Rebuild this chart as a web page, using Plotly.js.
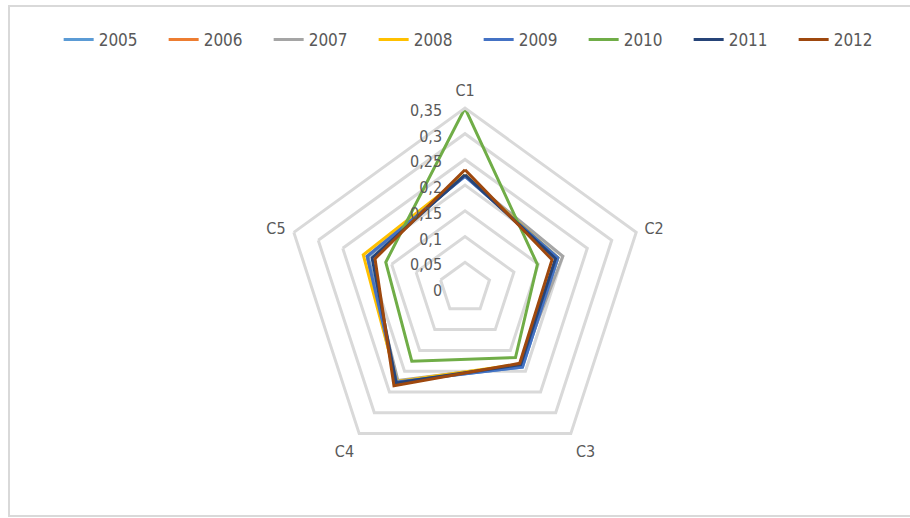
<!DOCTYPE html>
<html>
<head>
<meta charset="utf-8">
<script src="https://cdn.plot.ly/plotly-3.0.1.min.js"></script>
<style>
html,body{margin:0;padding:0;background:#fff;}
#chart{width:910px;height:518px;}
</style>
</head>
<body>
<div id="chart"></div>
<script>
const categories = ["C1", "C2", "C3", "C4", "C5"];
const years = ["2005", "2006", "2007", "2008", "2009", "2010", "2011", "2012"];
const v2005 = [0.218, 0.190, 0.190, 0.225, 0.198];
const v2006 = [0.219, 0.188, 0.186, 0.228, 0.200];
const v2007 = [0.218, 0.200, 0.185, 0.222, 0.200];
const v2008 = [0.220, 0.190, 0.183, 0.225, 0.208];
const v2009 = [0.217, 0.190, 0.190, 0.226, 0.200];
const v2010 = [0.350, 0.148, 0.167, 0.176, 0.162];
const v2011 = [0.220, 0.185, 0.184, 0.228, 0.190];
const v2012 = [0.230, 0.178, 0.181, 0.235, 0.184];
const seriesValues = [v2005, v2006, v2007, v2008, v2009, v2010, v2011, v2012];
const colors = ["#5B9BD5", "#ED7D31", "#A5A5A5", "#FFC000", "#4472C4", "#70AD47", "#264478", "#9E480E"];
const radialTicks = [0, 0.05, 0.1, 0.15, 0.2, 0.25, 0.3, 0.35];

const FONT = "'DejaVu Sans Condensed', 'Open Sans', sans-serif";

const traces = years.map((y, i) => ({
  type: "scatterpolar",
  mode: "lines",
  name: y,
  r: seriesValues[i].concat([seriesValues[i][0]]),
  theta: categories.concat([categories[0]]),
  line: {color: colors[i], width: 3},
  hoverinfo: "name+r+theta"
}));

const layout = {
  width: 910,
  height: 518,
  margin: {l: 0, r: 0, t: 0, b: 0},
  paper_bgcolor: "#ffffff",
  separators: ", ",
  font: {family: FONT, size: 16, color: "#595959"},
  showlegend: true,
  legend: {
    orientation: "h",
    x: 0.526, xanchor: "center",
    y: 0.923, yanchor: "middle",
    font: {family: FONT, size: 17, color: "#595959"},
    entrywidth: 60,
    entrywidthmode: "pixels",
    tracegroupgap: 0
  },
  polar: {
    domain: {x: [285/910, 645/910], y: [50/518, 410/518]},
    gridshape: "linear",
    bgcolor: "rgba(0,0,0,0)",
    radialaxis: {
      range: [0, 0.35],
      tickvals: radialTicks,
      angle: 90,
      side: "counterclockwise",
      showline: false,
      ticks: "outside",
      ticklen: 8,
      tickcolor: "rgba(0,0,0,0)",
      gridcolor: "#d9d9d9",
      gridwidth: 3,
      tickfont: {family: FONT, size: 16, color: "#595959"}
    },
    angularaxis: {
      type: "category",
      categoryarray: categories,
      rotation: 90,
      direction: "clockwise",
      showgrid: false,
      showline: true,
      linecolor: "#d9d9d9",
      linewidth: 3,
      ticks: "outside",
      ticklen: 4,
      tickcolor: "rgba(0,0,0,0)",
      tickfont: {family: FONT, size: 16, color: "#595959"}
    }
  },
  shapes: [{
    type: "rect", xref: "paper", yref: "paper",
    x0: 9/910, x1: 1.01, y0: 2/518, y1: 512/518,
    line: {color: "#d9d9d9", width: 2},
    fillcolor: "rgba(0,0,0,0)",
    layer: "below"
  }]
};

Plotly.newPlot("chart", traces, layout, {displayModeBar: false, staticPlot: true});
</script>
</body>
</html>
